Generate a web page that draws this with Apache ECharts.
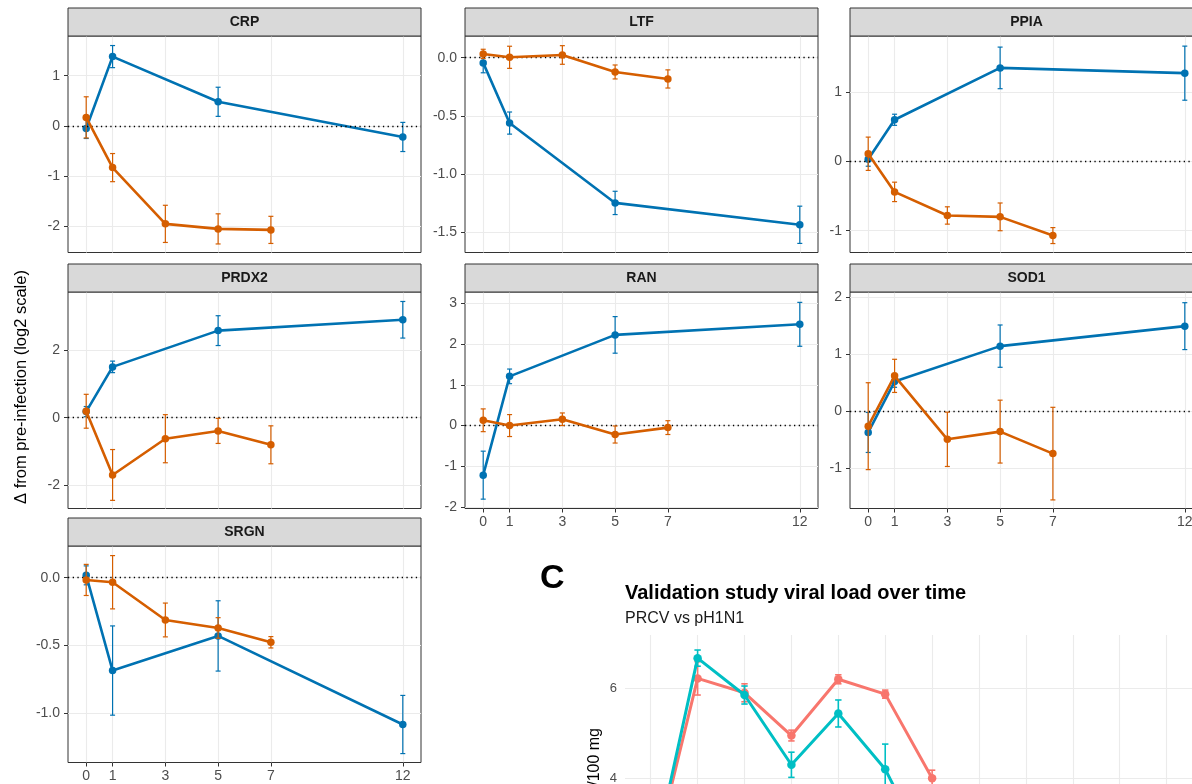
<!DOCTYPE html>
<html><head><meta charset="utf-8">
<script src="https://cdn.jsdelivr.net/npm/echarts@6/dist/echarts.min.js"></script>
<style>html,body{margin:0;padding:0;background:#fff}#chart{width:1192px;height:784px}</style>
</head><body><div id="chart"></div>
<script>
// ---------------- data ----------------
const dayTicks = [0, 1, 3, 5, 7, 12];
const genes = ['CRP', 'LTF', 'PPIA', 'PRDX2', 'RAN', 'SOD1', 'SRGN'];
const blueDays = [0, 1, 5, 12];
const orangeDays = [0, 1, 3, 5, 7];

const CRP_blue = [-0.05, 1.38, 0.48, -0.22];
const CRP_blue_err = [0.2, 0.22, 0.29, 0.29];
const CRP_orange = [0.17, -0.83, -1.95, -2.05, -2.07];
const CRP_orange_err = [0.41, 0.28, 0.37, 0.30, 0.27];
const CRP_ticks = [-2, -1, 0, 1];
const CRP_ylim = [-2.52, 1.79];

const LTF_blue = [-0.045, -0.562, -1.248, -1.436];
const LTF_blue_err = [0.085, 0.095, 0.10, 0.16];
const LTF_orange = [0.032, 0.003, 0.023, -0.123, -0.183];
const LTF_orange_err = [0.04, 0.095, 0.08, 0.06, 0.078];
const LTF_ticks = [-1.5, -1.0, -0.5, 0.0];
const LTF_ylim = [-1.674, 0.186];

const PPIA_blue = [0.03, 0.60, 1.348, 1.272];
const PPIA_blue_err = [0.1, 0.08, 0.30, 0.39];
const PPIA_orange = [0.11, -0.44, -0.78, -0.80, -1.07];
const PPIA_orange_err = [0.24, 0.14, 0.125, 0.20, 0.115];
const PPIA_ticks = [-1, 0, 1];
const PPIA_ylim = [-1.314, 1.808];

const PRDX2_blue = [0.18, 1.50, 2.57, 2.89];
const PRDX2_blue_err = [0.15, 0.17, 0.44, 0.54];
const PRDX2_orange = [0.19, -1.69, -0.62, -0.39, -0.80];
const PRDX2_orange_err = [0.5, 0.75, 0.71, 0.37, 0.56];
const PRDX2_ticks = [-2, 0, 2];
const PRDX2_ylim = [-2.68, 3.71];

const RAN_blue = [-1.22, 1.21, 2.23, 2.49];
const RAN_blue_err = [0.59, 0.18, 0.45, 0.54];
const RAN_orange = [0.13, 0.0, 0.155, -0.22, -0.05];
const RAN_orange_err = [0.28, 0.27, 0.155, 0.21, 0.17];
const RAN_ticks = [-2, -1, 0, 1, 2, 3];
const RAN_ylim = [-2.04, 3.285];

const SOD1_blue = [-0.37, 0.52, 1.14, 1.49];
const SOD1_blue_err = [0.35, 0.10, 0.37, 0.41];
const SOD1_orange = [-0.26, 0.62, -0.49, -0.355, -0.74];
const SOD1_orange_err = [0.76, 0.29, 0.475, 0.55, 0.81];
const SOD1_ticks = [-1, 0, 1, 2];
const SOD1_ylim = [-1.70, 2.087];

const SRGN_blue = [0.017, -0.687, -0.431, -1.086];
const SRGN_blue_err = [0.07, 0.33, 0.26, 0.215];
const SRGN_orange = [-0.017, -0.034, -0.313, -0.372, -0.478];
const SRGN_orange_err = [0.115, 0.197, 0.125, 0.076, 0.042];
const SRGN_ticks = [-1.0, -0.5, 0.0];
const SRGN_ylim = [-1.367, 0.234];

// Panel C: validation study viral load
const cDays = [0, 1, 2, 3, 4, 5, 6];
const cGridDays = [0, 1, 2, 3, 4, 5, 6, 7, 8, 9, 10, 11, 12];
const cPRCV = [1.94, 6.22, 5.90, 4.95, 6.20, 5.87, 4.00];
const cPRCV_err = [0.2, 0.37, 0.20, 0.12, 0.10, 0.09, 0.18];
const cH1N1 = [1.92, 6.67, 5.85, 4.30, 5.44, 4.20, 2.15];
const cH1N1_err = [0.2, 0.18, 0.20, 0.28, 0.30, 0.56, 0.2];
const cTicks = [0, 2, 4, 6];

// ---------------- assembly ----------------
const blueMeans = [CRP_blue, LTF_blue, PPIA_blue, PRDX2_blue, RAN_blue, SOD1_blue, SRGN_blue];
const blueErrs = [CRP_blue_err, LTF_blue_err, PPIA_blue_err, PRDX2_blue_err, RAN_blue_err, SOD1_blue_err, SRGN_blue_err];
const orangeMeans = [CRP_orange, LTF_orange, PPIA_orange, PRDX2_orange, RAN_orange, SOD1_orange, SRGN_orange];
const orangeErrs = [CRP_orange_err, LTF_orange_err, PPIA_orange_err, PRDX2_orange_err, RAN_orange_err, SOD1_orange_err, SRGN_orange_err];
const yTicks = [CRP_ticks, LTF_ticks, PPIA_ticks, PRDX2_ticks, RAN_ticks, SOD1_ticks, SRGN_ticks];
const yLims = [CRP_ylim, LTF_ylim, PPIA_ylim, PRDX2_ylim, RAN_ylim, SOD1_ylim, SRGN_ylim];
const yDecimals = [0, 1, 0, 0, 0, 0, 1];

const FONT = '"Liberation Sans", Arial, Helvetica, sans-serif';
const BLUE = '#0072B2', ORANGE = '#D55E00';
const colLeft = [68, 465, 850];
const rowTop = [36, 292, 546];
const panelW = 353, panelH = 216.5, stripH = 28;
const showXLabels = [false, false, false, false, true, true, true];

const grids = [], xAxes = [], yAxes = [], series = [], graphics = [];

function errorBarSeries(idx, days, means, errs, color, capHalf, lw, z) {
  return {
    type: 'custom', xAxisIndex: idx, yAxisIndex: idx, silent: true, z: z,
    data: days.map((d, k) => [d, means[k] - errs[k], means[k] + errs[k]]),
    renderItem: function (params, api) {
      const x = api.value(0);
      const lo = api.coord([x, api.value(1)]);
      const hi = api.coord([x, api.value(2)]);
      const st = { stroke: color, lineWidth: lw, fill: null };
      return { type: 'group', children: [
        { type: 'line', shape: { x1: lo[0], y1: lo[1], x2: hi[0], y2: hi[1] }, style: st },
        { type: 'line', shape: { x1: lo[0] - capHalf, y1: lo[1], x2: lo[0] + capHalf, y2: lo[1] }, style: st },
        { type: 'line', shape: { x1: hi[0] - capHalf, y1: hi[1], x2: hi[0] + capHalf, y2: hi[1] }, style: st }
      ]};
    }
  };
}

function lineSeries(idx, name, days, means, color, lw, size, z) {
  return {
    type: 'line', name: name, xAxisIndex: idx, yAxisIndex: idx, z: z,
    data: days.map((d, k) => [d, means[k]]),
    symbol: 'circle', symbolSize: size, showSymbol: true,
    lineStyle: { color: color, width: lw }, itemStyle: { color: color },
    emphasis: { disabled: true }
  };
}

genes.forEach((g, i) => {
  const r = Math.floor(i / 3), c = i % 3;
  const left = colLeft[c], top = rowTop[r];
  grids.push({ left: left, top: top, width: panelW, height: panelH, show: true,
    borderColor: '#333333', borderWidth: 1, backgroundColor: 'transparent', outerBoundsMode: 'none', containLabel: false });
  const sx = showXLabels[i];
  xAxes.push({
    type: 'value', gridIndex: i, min: -0.69, max: 12.69,
    axisLine: { show: false, onZero: false },
    axisTick: { show: sx, customValues: dayTicks, length: 4, lineStyle: { color: '#333333', width: 1 } },
    axisLabel: { show: sx, customValues: dayTicks, color: '#4D4D4D', fontSize: 14, fontFamily: FONT, margin: 7 },
    splitLine: { show: true, lineStyle: { color: '#EBEBEB', width: 1.1 } }
  });
  const dec = yDecimals[i];
  yAxes.push({
    type: 'value', gridIndex: i, min: yLims[i][0], max: yLims[i][1],
    axisLine: { show: false, onZero: false },
    axisTick: { show: true, customValues: yTicks[i], length: 4, lineStyle: { color: '#333333', width: 1 } },
    axisLabel: { show: true, customValues: yTicks[i], color: '#4D4D4D', fontSize: 14, fontFamily: FONT, margin: 8,
      formatter: v => Number(v).toFixed(dec) },
    splitLine: { show: true, lineStyle: { color: '#EBEBEB', width: 1.1 } }
  });
  // zero reference line
  series.push({
    type: 'line', xAxisIndex: i, yAxisIndex: i, data: [], z: 1, silent: true,
    markLine: { silent: true, symbol: ['none', 'none'], label: { show: false },
      lineStyle: { color: '#000000', width: 1.3, type: [1.3, 3.4] }, emphasis: { disabled: true },
      data: [{ yAxis: 0 }] }
  });
  series.push(lineSeries(i, 'Group 1', blueDays, blueMeans[i], BLUE, 2.6, 7.5, 3));
  series.push(errorBarSeries(i, blueDays, blueMeans[i], blueErrs[i], BLUE, 2.5, 1.2, 4));
  series.push(lineSeries(i, 'Group 2', orangeDays, orangeMeans[i], ORANGE, 2.6, 7.5, 5));
  series.push(errorBarSeries(i, orangeDays, orangeMeans[i], orangeErrs[i], ORANGE, 2.5, 1.2, 6));
  // strip
  graphics.push({ type: 'rect', z: 10, shape: { x: left, y: top - stripH, width: panelW, height: stripH },
    style: { fill: '#D9D9D9', stroke: '#333333', lineWidth: 1 } });
  graphics.push({ type: 'text', z: 11, x: left + panelW / 2, y: top - stripH / 2,
    style: { text: g, font: 'bold 14px ' + FONT, fill: '#1A1A1A', textAlign: 'center', textVerticalAlign: 'middle', align: 'center', verticalAlign: 'middle' } });
});

// ---- panel C ----
const ci = genes.length;
grids.push({ left: 625, top: 635, width: 627, height: 341.3, show: false, outerBoundsMode: 'none', containLabel: false });
xAxes.push({
  type: 'value', gridIndex: ci, min: -0.548, max: 12.82,
  axisLine: { show: false, onZero: false },
  axisTick: { show: false, customValues: cGridDays },
  axisLabel: { show: false, customValues: cGridDays },
  splitLine: { show: true, lineStyle: { color: '#EBEBEB', width: 1.1 } }
});
yAxes.push({
  type: 'value', gridIndex: ci, min: -0.4, max: 7.184,
  axisLine: { show: false, onZero: false },
  axisTick: { show: false, customValues: cTicks },
  axisLabel: { show: true, customValues: cTicks, color: '#4D4D4D', fontSize: 13, fontFamily: FONT, margin: 8 },
  splitLine: { show: true, lineStyle: { color: '#EBEBEB', width: 1.1 } }
});
series.push(lineSeries(ci, 'PRCV', cDays, cPRCV, '#F8766D', 3, 8.5, 3));
series.push(errorBarSeries(ci, cDays, cPRCV, cPRCV_err, '#F8766D', 3.2, 1.6, 4));
series.push(lineSeries(ci, 'pH1N1', cDays, cH1N1, '#00BFC4', 3, 8.5, 5));
series.push(errorBarSeries(ci, cDays, cH1N1, cH1N1_err, '#00BFC4', 3.2, 1.6, 6));

graphics.push({ type: 'text', x: 21, y: 387, rotation: Math.PI / 2,
  style: { text: 'Δ from pre-infection (log2 scale)', font: '16.5px ' + FONT, fill: '#000000',
    textAlign: 'center', textVerticalAlign: 'middle', align: 'center', verticalAlign: 'middle' } });
graphics.push({ type: 'text', x: 540, y: 579,
  style: { text: 'C', font: 'bold 34px ' + FONT, fill: '#000000', textAlign: 'left', textVerticalAlign: 'middle', align: 'left', verticalAlign: 'middle' } });
graphics.push({ type: 'text', x: 625, y: 593,
  style: { text: 'Validation study viral load over time', font: 'bold 20px ' + FONT, fill: '#000000', textAlign: 'left', textVerticalAlign: 'middle', align: 'left', verticalAlign: 'middle' } });
graphics.push({ type: 'text', x: 625, y: 619,
  style: { text: 'PRCV vs pH1N1', font: '16px ' + FONT, fill: '#1A1A1A', textAlign: 'left', textVerticalAlign: 'middle', align: 'left', verticalAlign: 'middle' } });
graphics.push({ type: 'text', x: 595, y: 728, rotation: Math.PI / 2,
  style: { text: 'log10 TCID50/100 mg', font: '16px ' + FONT, fill: '#000000', textAlign: 'right', textVerticalAlign: 'middle', align: 'right', verticalAlign: 'middle' } });

const chart = echarts.init(document.getElementById('chart'), null, { renderer: 'canvas', width: 1192, height: 784 });
chart.setOption({
  animation: false,
  backgroundColor: '#ffffff',
  textStyle: { fontFamily: FONT },
  grid: grids, xAxis: xAxes, yAxis: yAxes, series: series,
  graphic: { elements: graphics }
});
</script></body></html>
